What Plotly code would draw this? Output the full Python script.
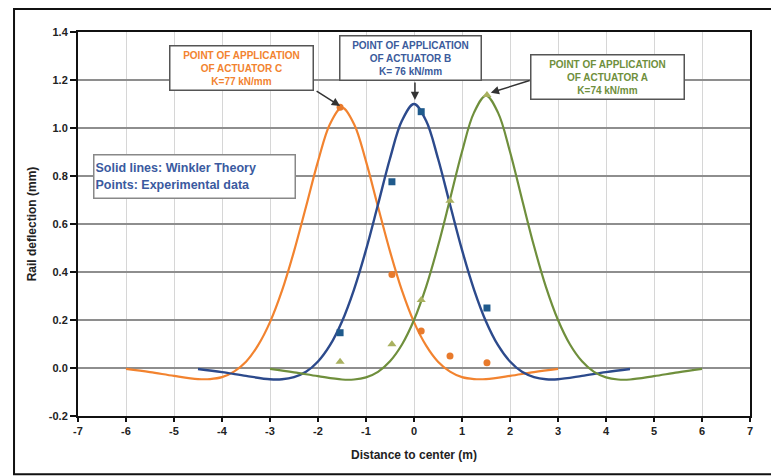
import plotly.graph_objects as go

# Winkler theory deflection curves (m, mm) for the three actuator positions
x_c = [-6.0, -5.5, -5.0, -4.5, -4.25, -4.0, -3.75, -3.5, -3.25, -3.0, -2.75, -2.5, -2.25, -2.0, -1.75,
       -1.5, -1.25, -1.0, -0.75, -0.5, -0.25, 0.0, 0.25, 0.5, 0.75, 1.0, 1.25, 1.5, 2.0, 2.5, 3.0]
y_c = [-0.004, -0.017, -0.033, -0.046, -0.046, -0.038, -0.015, 0.026, 0.094, 0.191, 0.322, 0.486, 0.672, 0.861, 1.017,
       1.085, 1.017, 0.861, 0.672, 0.486, 0.322, 0.191, 0.094, 0.026, -0.015, -0.038, -0.046, -0.046, -0.033, -0.017, -0.004]

x_b = [-4.5, -4.0, -3.5, -3.0, -2.75, -2.5, -2.25, -2.0, -1.75, -1.5, -1.25, -1.0, -0.75, -0.5, -0.25,
       0.0, 0.25, 0.5, 0.75, 1.0, 1.25, 1.5, 1.75, 2.0, 2.25, 2.5, 2.75, 3.0, 3.5, 4.0, 4.5]
y_b = [-0.004, -0.017, -0.033, -0.047, -0.047, -0.038, -0.016, 0.027, 0.095, 0.194, 0.327, 0.492, 0.681, 0.873, 1.031,
       1.100, 1.031, 0.873, 0.681, 0.492, 0.327, 0.194, 0.095, 0.027, -0.016, -0.038, -0.047, -0.047, -0.033, -0.017, -0.004]

x_a = [-3.0, -2.5, -2.0, -1.5, -1.25, -1.0, -0.75, -0.5, -0.25, 0.0, 0.25, 0.5, 0.75, 1.0, 1.25,
       1.5, 1.75, 2.0, 2.25, 2.5, 2.75, 3.0, 3.25, 3.5, 3.75, 4.0, 4.25, 4.5, 5.0, 5.5, 6.0]
y_a = [-0.004, -0.018, -0.034, -0.048, -0.048, -0.039, -0.016, 0.028, 0.098, 0.200, 0.337, 0.508, 0.703, 0.901, 1.064,
       1.135, 1.064, 0.901, 0.703, 0.508, 0.337, 0.200, 0.098, 0.028, -0.016, -0.039, -0.048, -0.048, -0.034, -0.018, -0.004]

# Experimental measurements
exp_x = [-1.54, -0.46, 0.15, 0.75, 1.52]
exp_b = [0.147, 0.776, 1.068, None, 0.250]
exp_c = [1.086, 0.390, 0.154, 0.050, 0.022]
exp_a = [0.026, 0.099, 0.283, 0.697, 1.137]

x_ticks = list(range(-7, 8))
y_ticks = [-0.2, 0.0, 0.2, 0.4, 0.6, 0.8, 1.0, 1.2, 1.4]

ORANGE = "#f2832f"
BLUE = "#2c4a8c"
GREEN = "#6f8f3c"
FONT = "Liberation Sans"

fig = go.Figure()

fig.add_trace(go.Scatter(x=x_c, y=y_c, mode="lines", line=dict(color=ORANGE, width=2.2, shape="spline")))
fig.add_trace(go.Scatter(x=x_b, y=y_b, mode="lines", line=dict(color=BLUE, width=2.4, shape="spline")))
fig.add_trace(go.Scatter(x=x_a, y=y_a, mode="lines", line=dict(color=GREEN, width=2.2, shape="spline")))

fig.add_trace(go.Scatter(x=exp_x, y=exp_b, mode="markers",
                         marker=dict(symbol="square", size=7, color="#1f5a8c")))
fig.add_trace(go.Scatter(x=exp_x, y=exp_c, mode="markers",
                         marker=dict(symbol="circle", size=7, color="#e87a2c")))
fig.add_trace(go.Scatter(x=exp_x, y=exp_a, mode="markers",
                         marker=dict(symbol="triangle-up", size=8, color="#a9b15f")))

# Callout boxes
boxes = [
    (-3.59, 1.25, "POINT OF APPLICATION<br>OF ACTUATOR C<br>K=77 kN/mm", ORANGE, 140),
    (-0.08, 1.29, "POINT OF APPLICATION<br>OF ACTUATOR B<br>K= 76 kN/mm", "#3b5b9c", 138),
    (4.04, 1.2125, "POINT OF APPLICATION<br>OF ACTUATOR A<br>K=74 kN/mm", GREEN, 150),
]
for bx, by, txt, col, w in boxes:
    fig.add_annotation(x=bx, y=by, text=txt, showarrow=False, xref="x", yref="y",
                       font=dict(family=FONT, size=10, color=col, weight="bold"),
                       bgcolor="white", bordercolor="#555555", borderwidth=1.5,
                       width=w, height=41, align="center", valign="middle")

# Arrows pointing at the load positions
arrows = [(-1.54, 1.092, -2.06, 1.158), (0.02, 1.117, 0.02, 1.196), (1.6, 1.147, 2.44, 1.2)]
for hx, hy, tx, ty in arrows:
    fig.add_annotation(x=hx, y=hy, ax=tx, ay=ty, xref="x", yref="y", axref="x", ayref="y",
                       text="", showarrow=True, arrowhead=2, arrowsize=1.1, arrowwidth=1.5,
                       arrowcolor="#333333")

# Note box
fig.add_annotation(x=-6.68, y=0.80, xanchor="left", text="Solid lines: Winkler Theory<br>Points: Experimental data",
                   showarrow=False, xref="x", yref="y", align="left",
                   font=dict(family=FONT, size=12.5, color="#3a5aa0", weight="bold"),
                   bgcolor="white", bordercolor="#888888", borderwidth=1.5,
                   width=198, height=40)

fig.update_layout(
    width=771, height=476,
    margin=dict(l=78, r=21, t=32, b=60),
    paper_bgcolor="white", plot_bgcolor="white",
    showlegend=False,
    font=dict(family=FONT, color="#222222"),
    xaxis=dict(range=[-7, 7], tickvals=x_ticks, ticktext=[str(v) for v in x_ticks],
               showgrid=True, gridcolor="#d6d6d6", gridwidth=1, zeroline=False,
               showline=True, linecolor="#111111", linewidth=2, mirror=True,
               ticks="outside", ticklen=4, tickcolor="#111111", tickwidth=2,
               tickfont=dict(size=11, family=FONT, weight="bold"),
               title=dict(text="Distance to center (m)", standoff=14,
                          font=dict(size=12, family=FONT, weight="bold"))),
    yaxis=dict(range=[-0.2, 1.4], tickvals=y_ticks, ticktext=[f"{v:.1f}" for v in y_ticks],
               showgrid=True, gridcolor="#8e8e8e", gridwidth=2, zeroline=False,
               showline=True, linecolor="#111111", linewidth=2, mirror=True,
               ticks="outside", ticklen=6, tickcolor="#111111", tickwidth=1.5,
               tickfont=dict(size=11, family=FONT, weight="bold"),
               title=dict(text="Rail deflection (mm)", standoff=10,
                          font=dict(size=12, family=FONT, weight="bold"))),
    shapes=[dict(type="rect", xref="paper", yref="paper", x0=-0.0952, x1=1.04, y0=-0.152, y1=1.06,
                 line=dict(color="#111111", width=2), layer="below")],
)

fig.write_html("out.html")
